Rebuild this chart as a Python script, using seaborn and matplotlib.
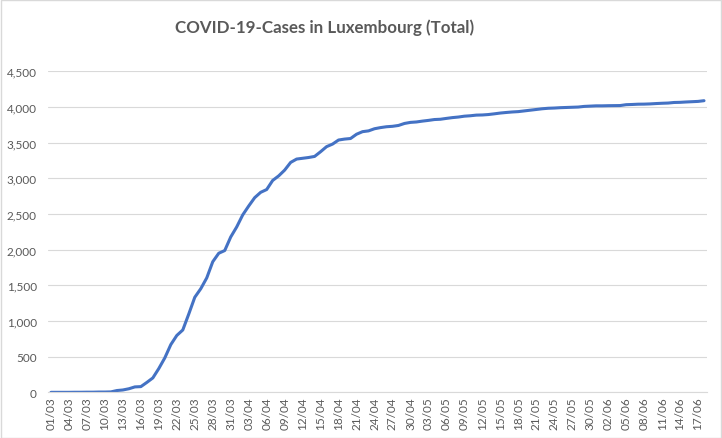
import numpy as np
import pandas as pd
import matplotlib
matplotlib.use("Agg")
import matplotlib.pyplot as plt
from matplotlib.patches import Rectangle
from matplotlib.ticker import FuncFormatter, MultipleLocator
import seaborn as sns

# daily totals, 01/03 .. 18/06
dates = pd.date_range("2020-03-01", "2020-06-18", freq="D")
cases = [
    1, 1, 1, 1, 2, 2, 3, 3, 5, 5,
    7, 26, 34, 51, 77, 81, 140, 203, 335, 484,
    670, 798, 875, 1099, 1333, 1453, 1605, 1831, 1950, 1988,
    2178, 2319, 2487, 2612, 2729, 2804, 2843, 2970, 3034, 3115,
    3223, 3270, 3281, 3292, 3307, 3373, 3444, 3480, 3537, 3550,
    3558, 3618, 3654, 3665, 3695, 3711, 3723, 3729, 3741, 3769,
    3784, 3790, 3802, 3812, 3824, 3828, 3840, 3851, 3859, 3871,
    3877, 3886, 3888, 3894, 3904, 3915, 3923, 3930, 3935, 3945,
    3955, 3965, 3975, 3982, 3985, 3990, 3993, 3996, 3999, 4008,
    4012, 4016, 4016, 4018, 4019, 4020, 4032, 4035, 4039, 4040,
    4043, 4048, 4052, 4055, 4063, 4065, 4070, 4074, 4078, 4088,
]
day_labels = dates.strftime("%d/%m")

df = pd.DataFrame({"day": np.arange(len(cases)), "cases": cases})

sns.set_style("white")
plt.rcParams['font.family'] = ['Lato', 'DejaVu Sans']

TXT = '#595959'
GRID = '#d9d9d9'

fig = plt.figure(figsize=(7.22, 4.39), dpi=100)
ax = fig.add_axes([48 / 722, 1 - 393.4 / 439, 659 / 722, 321.1 / 439])

sns.lineplot(data=df, x="day", y="cases", ax=ax, color='#4472C4', linewidth=2.2)

ax.set_xlim(-0.5, len(cases) - 0.5)
ax.set_ylim(0, 4500)
ax.yaxis.set_major_locator(MultipleLocator(500))
ax.yaxis.set_major_formatter(FuncFormatter(lambda v, _: f"{v:,.0f}"))
ax.set_xticks(df["day"][::3])
ax.set_xticklabels(day_labels[::3], rotation=90)

ax.set_xlabel("")
ax.set_ylabel("")
ax.grid(axis='y', color=GRID, linewidth=0.8)
ax.set_axisbelow(True)
for side in ['top', 'right', 'left']:
    ax.spines[side].set_visible(False)
ax.spines['bottom'].set_color(GRID)
ax.spines['bottom'].set_linewidth(0.8)
ax.tick_params(axis='y', length=0, pad=8, labelsize=8.5, labelcolor=TXT)
ax.tick_params(axis='x', length=0, pad=3, labelsize=8.5, labelcolor=TXT)

fig.text(325 / 722, 1 - 28 / 439, "COVID-19-Cases in Luxembourg (Total)",
         ha='center', va='center', fontsize=12.2, fontweight='bold', color=TXT)

fig.patches.append(Rectangle((0.5 / 722, 0.5 / 439), 720 / 722, 437.5 / 439,
                             transform=fig.transFigure, fill=False,
                             edgecolor=GRID, linewidth=1))

fig.savefig("out.png", dpi=100)
